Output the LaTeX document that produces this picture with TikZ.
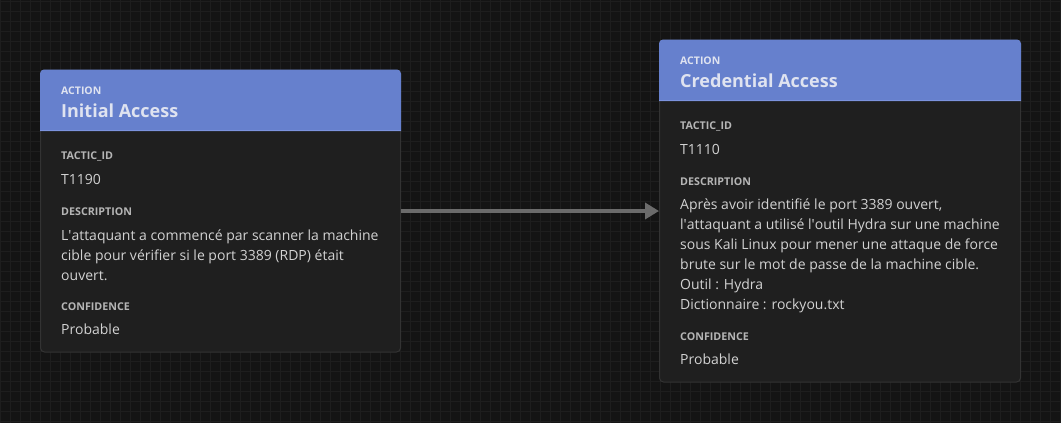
\documentclass[tikz,border=0pt]{standalone}
\usepackage{fontspec}
\setmainfont{Open Sans}
\usetikzlibrary{arrows.meta}
\definecolor{bgc}{HTML}{141414}
\definecolor{gridc}{HTML}{1E1E1E}
\definecolor{cardc}{HTML}{1F1F1F}
\definecolor{cardborder}{HTML}{333333}
\definecolor{headc}{HTML}{6680CD}
\definecolor{headline}{HTML}{7C93DE}
\definecolor{headtext}{HTML}{DFE3F0}
\definecolor{lblc}{HTML}{B5B5B5}
\definecolor{valc}{HTML}{D2D2D2}
\definecolor{arrc}{HTML}{6B6B6B}
\newcommand{\sq}{\textquotesingle}
\tikzset{
  card/.style={draw=cardborder, line width=1pt, fill=cardc, rounded corners=4pt, rectangle, inner sep=0pt},
  hsmall/.style={anchor=base west, inner sep=0pt, text=headtext, font=\fontsize{10.5}{12}\selectfont\bfseries},
  htitle/.style={anchor=base west, inner sep=0pt, text=headtext, font=\fontsize{18}{20}\selectfont\bfseries},
  lbl/.style={anchor=base west, inner sep=0pt, text=lblc, font=\fontsize{10.7}{12}\selectfont\bfseries},
  val/.style={anchor=base west, inner sep=0pt, text=valc, font=\fontsize{14}{20}\selectfont},
  conn/.style={draw=arrc, line width=4pt, -{Triangle[length=14pt,width=16pt]}}
}
\begin{document}
\begin{tikzpicture}[x=1pt,y=-1pt]
\useasboundingbox (0,0) rectangle (1061,423);
\fill[bgc] (0,0) rectangle (1061,423);
\foreach \i in {0,10,...,1060} { \draw[gridc, line width=1pt] (\i+0.5,0) -- (\i+0.5,423); }
\foreach \j in {0,10,...,420} { \draw[gridc, line width=1pt] (0,\j+1.5) -- (1061,\j+1.5); }

% card 1
\node[card, minimum width=360pt, minimum height=282pt] (c1) at (220.5,211) {};
\fill[headc] ([yshift=-61.7pt]c1.north west) [rounded corners=4pt] -- (c1.north west) -- (c1.north east) [sharp corners] -- ([yshift=-61.7pt]c1.north east) -- cycle;
\draw[headline, line width=1pt] ([yshift=-61.2pt]c1.north west) -- ([yshift=-61.2pt]c1.north east);
\node[hsmall] (c1a) at (61,94) {ACTION};
\node[htitle] (c1t) at (61,117.3) {Initial Access};
\node[lbl] (c1l1) at (61,159) {TACTIC\_ID};
\node[val] (c1v1) at (61,184.3) {T1190};
\node[lbl] (c1l2) at (61,215) {DESCRIPTION};
\node[val] (c1d1) at (61,240) {L\sq attaquant a commencé par scanner la machine};
\node[val] (c1d2) at (61,260) {cible pour vérifier si le port 3389 (RDP) était};
\node[val] (c1d3) at (61,280) {ouvert.};
\node[lbl] (c1l3) at (61,310) {CONFIDENCE};
\node[val] (c1v3) at (61,334) {Probable};

% card 2
\node[card, minimum width=361pt, minimum height=342pt] (c2) at (840,211) {};
\fill[headc] ([yshift=-61.7pt]c2.north west) [rounded corners=4pt] -- (c2.north west) -- (c2.north east) [sharp corners] -- ([yshift=-61.7pt]c2.north east) -- cycle;
\draw[headline, line width=1pt] ([yshift=-61.2pt]c2.north west) -- ([yshift=-61.2pt]c2.north east);
\node[hsmall] (c2a) at (680,64) {ACTION};
\node[htitle] (c2t) at (680,87.3) {Credential Access};
\node[lbl] (c2l1) at (680,129) {TACTIC\_ID};
\node[val] (c2v1) at (680,154) {T1110};
\node[lbl] (c2l2) at (680,185) {DESCRIPTION};
\node[val] (c2d1) at (680,209) {Après avoir identifié le port 3389 ouvert,};
\node[val] (c2d2) at (680,229) {l\sq attaquant a utilisé l\sq outil Hydra sur une machine};
\node[val] (c2d3) at (680,249) {sous Kali Linux pour mener une attaque de force};
\node[val] (c2d4) at (680,269) {brute sur le mot de passe de la machine cible.};
\node[val] (c2d5) at (680,289) {Outil : Hydra};
\node[val] (c2d6) at (680,309) {Dictionnaire : rockyou.txt};
\node[lbl] (c2l3) at (680,340) {CONFIDENCE};
\node[val] (c2v3) at (680,364) {Probable};

% connector
\draw[conn] (c1.east) -- (c2.west);
\end{tikzpicture}
\end{document}
